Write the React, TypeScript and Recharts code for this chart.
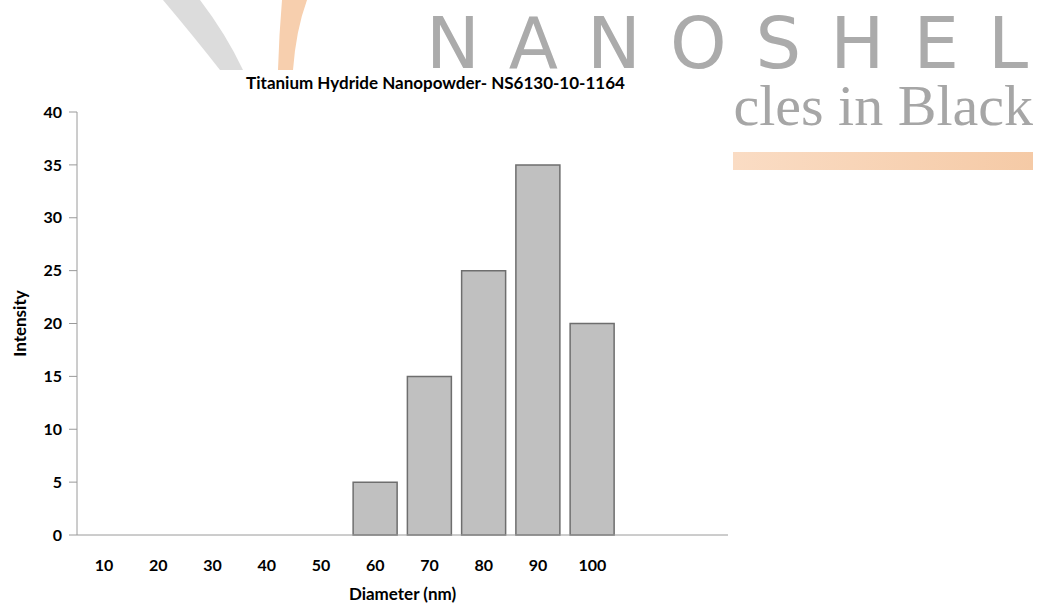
import React from 'react';
import { BarChart, Bar, XAxis, YAxis } from 'recharts';

const diameters = ['10', '20', '30', '40', '50', '60', '70', '80', '90', '100', '', ' '];
const intensity = [0, 0, 0, 0, 0, 5, 15, 25, 35, 20, 0, 0];
const yTicks = [0, 5, 10, 15, 20, 25, 30, 35, 40];

const chartTitle = 'Titanium Hydride Nanopowder- NS6130-10-1164';
const xTitle = 'Diameter (nm)';
const yTitle = 'Intensity';

const data = diameters.map((d, i) => ({ diameter: d, intensity: intensity[i] }));

const font = 'Lato, "Open Sans", sans-serif';
const axisColor = '#9a9a9a';

// faded company logo behind the chart
const Watermark = () => (
  <svg width={1037} height={603} style={{ position: 'absolute', left: 0, top: 0 }}>
    <defs>
      <linearGradient id="band" x1="0" x2="1" y1="0" y2="0">
        <stop offset="0%" stopColor="#fadcc4" />
        <stop offset="100%" stopColor="#f5caa6" />
      </linearGradient>
    </defs>
    <path d="M163,0 Q195,38 220,70 L243,70 Q226,34 200,0 Z" fill="#dcdcdc" />
    <path d="M282,0 Q279,35 278,70 L293,70 Q296,30 307,0 Z" fill="#f7cfae" />
    <text
      x={426}
      y={68}
      textLength={602}
      lengthAdjust="spacing"
      fontSize={72}
      fontFamily='"DejaVu Sans", sans-serif'
      fill="#ababab"
    >
      NANOSHEL
    </text>
    <text
      x={1033}
      y={125}
      textAnchor="end"
      fontSize={58}
      fontFamily='"Liberation Serif", serif'
      fill="#a6a6a6"
    >
      cles in Black
    </text>
    <rect x={733} y={152} width={300} height={18} fill="url(#band)" />
  </svg>
);

export default function App() {
  return (
    <div style={{ position: 'absolute', left: 0, top: 0, width: 1037, height: 603, background: '#fff' }}>
      <Watermark />
      <div style={{ position: 'absolute', left: 0, top: 70, width: 730, height: 533, background: '#fff' }}>
        <div
          style={{
            position: 'absolute',
            left: 0,
            width: 871,
            top: 3,
            textAlign: 'center',
            fontFamily: font,
            fontWeight: 700,
            fontSize: 17,
            lineHeight: '20px',
            color: '#000',
          }}
        >
          {chartTitle}
        </div>
        <BarChart
          width={730}
          height={533}
          data={data}
          margin={{ top: 42, right: 2, left: 0, bottom: 0 }}
          barCategoryGap="9%"
        >
          <XAxis
            dataKey="diameter"
            height={68}
            tickLine={false}
            tickMargin={19}
            interval={0}
            stroke={axisColor}
            tick={{ fill: '#000', fontFamily: font, fontWeight: 700, fontSize: 16 }}
            label={{
              value: xTitle,
              position: 'insideBottom',
              offset: 3,
              fill: '#000',
              fontFamily: font,
              fontWeight: 700,
              fontSize: 17,
            }}
          />
          <YAxis
            width={77}
            domain={[0, 40]}
            ticks={yTicks}
            interval={0}
            tickSize={8}
            tickMargin={7}
            stroke={axisColor}
            tick={{ fill: '#000', fontFamily: font, fontWeight: 700, fontSize: 16 }}
            label={{
              value: yTitle,
              angle: -90,
              position: 'insideLeft',
              offset: 20,
              fill: '#000',
              fontFamily: font,
              fontWeight: 700,
              fontSize: 17,
              style: { textAnchor: 'middle' },
            }}
          />
          <Bar dataKey="intensity" fill="#c0c0c0" stroke="#6e6e6e" strokeWidth={1.5} isAnimationActive={false} />
        </BarChart>
      </div>
    </div>
  );
}
